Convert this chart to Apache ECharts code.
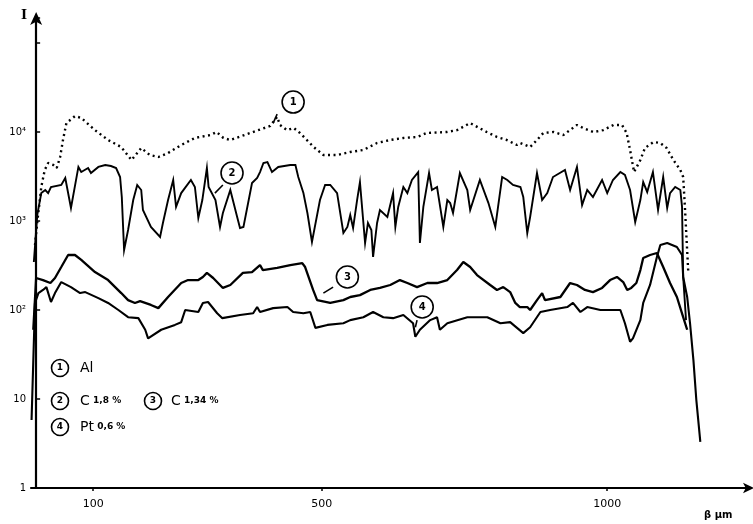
<!DOCTYPE html>
<html>
<head>
<meta charset="utf-8">
<script src="https://cdn.jsdelivr.net/npm/echarts@6/dist/echarts.min.js"></script>
<style>
html,body{margin:0;padding:0;background:#fff;}
#chart{width:753px;height:524px;}
</style>
</head>
<body>
<div id="chart"></div>
<script>
// ---- data (x in µm, y = intensity I, log scale) ----
const xTickValues = [100, 500, 1000];
const yTickLabels = ['1', '10', '10²', '10³', '10⁴'];
const xUnitLabel = 'β µm';
const yAxisLabel = 'I';

const seriesNames = ['Al', 'C 1,8 %', 'C 1,34 %', 'Pt 0,6 %'];
const seriesNums = ['1', '2', '3', '4'];

const alData = [[-2,537],[2,975],[9,2410],[15,3740],[21,4490],[30,4260],[36,3940],[42,5240],[47,8130],[53,12600],[68,15100],[79,14400],[103,10500],[126,8130],[149,6780],[167,4840],[184,6610],[199,5520],[214,5240],[231,5810],[254,7140],[278,8570],[305,9250],[316,10000],[328,8570],[340,8130],[375,9750],[410,11700],[422,14800],[427,12000],[439,10500],[451,11100],[462,9750],[474,8130],[486,6780],[503,5520],[527,5520],[550,5960],[573,6280],[597,7520],[620,8130],[643,8570],[667,8790],[684,9750],[719,10000],[737,10500],[760,12600],[789,10000],[807,8790],[824,8130],[842,7140],[848,7520],[865,6780],[877,8130],[888,9750],[906,10000],[923,9250],[947,12000],[958,11100],[976,10000],[993,10500],[1011,12000],[1026,12000],[1034,9750],[1040,6280],[1047,3550],[1058,4840],[1066,6610],[1081,7720],[1093,7520],[1104,6610],[1116,4840],[1128,3740],[1133,3120],[1136,1440],[1139,612],[1142,261]];

const c18Data = [[-4,346],[2,1170],[9,2060],[16,2230],[21,2060],[26,2410],[44,2540],[51,3040],[61,1400],[74,4050],[79,3550],[91,3940],[96,3460],[109,4050],[121,4260],[131,4150],[140,3940],[147,3120],[150,1860],[154,472],[161,792],[170,1720],[177,2540],[184,2230],[187,1330],[201,857],[217,661],[222,950],[231,1720],[240,2890],[245,1440],[254,2060],[271,2890],[278,2410],[284,1080],[291,1720],[299,3940],[302,2410],[314,1720],[322,857],[327,1230],[340,2230],[352,1110],[357,834],[363,857],[378,2670],[387,3040],[392,3550],[398,4490],[405,4600],[413,3550],[424,4050],[445,4260],[454,4260],[459,3120],[468,2060],[475,1230],[483,581],[497,1720],[506,2540],[515,2540],[527,2060],[538,733],[545,857],[550,1170],[555,834],[562,1720],[567,2740],[576,566],[581,950],[587,792],[590,394],[597,950],[602,1330],[615,1110],[625,2060],[629,857],[634,1440],[643,2410],[650,2060],[658,2890],[669,3550],[672,566],[678,1440],[688,3460],[693,2230],[702,2410],[713,857],[720,1720],[725,1590],[730,1230],[742,3460],[755,2230],[760,1330],[777,2890],[792,1590],[804,857],[816,3120],[825,2890],[835,2540],[848,2410],[853,1860],[860,733],[865,1110],[877,3460],[886,1720],[895,2060],[905,3120],[926,3740],[935,2230],[947,4050],[956,1510],[965,2230],[975,1860],[991,2890],[1000,2060],[1010,2890],[1023,3550],[1031,3290],[1040,2230],[1049,975],[1058,1720],[1063,2740],[1070,2120],[1080,3550],[1089,1330],[1098,3120],[1105,1400],[1110,2060],[1119,2410],[1128,2230],[1131,1440],[1133,235],[1138,77]];

const c134Data = [[-5,60],[0,229],[12,217],[25,201],[33,229],[44,304],[56,415],[68,415],[79,365],[103,267],[126,217],[149,155],[161,129],[173,120],[182,126],[201,114],[214,105],[231,140],[254,201],[266,217],[284,217],[292,235],[299,261],[310,229],[327,177],[340,191],[362,261],[378,267],[392,320],[397,281],[422,297],[445,320],[466,337],[471,304],[485,168],[492,129],[515,120],[538,129],[550,140],[567,147],[585,168],[602,177],[620,191],[637,217],[650,201],[667,181],[685,201],[702,201],[720,217],[737,281],[748,346],[760,304],[772,247],[795,191],[807,168],[818,181],[830,159],[839,120],[847,108],[860,108],[865,100],[877,129],[886,155],[891,129],[918,140],[935,201],[947,191],[961,168],[975,159],[991,177],[1005,217],[1017,235],[1028,206],[1035,168],[1042,177],[1051,201],[1058,281],[1063,384],[1075,415],[1087,437],[1098,304],[1110,201],[1122,140],[1133,83],[1140,60]];

const pt06Data = [[-8,5.8],[-2,120],[4,155],[12,168],[18,181],[26,123],[33,155],[44,206],[61,181],[77,155],[86,159],[109,136],[126,120],[144,100],[161,83],[179,81],[191,60],[196,48],[219,60],[243,68],[254,73],[261,100],[284,95],[292,120],[301,123],[317,92],[326,81],[357,88],[380,92],[387,108],[392,95],[415,105],[440,108],[450,95],[468,92],[480,95],[489,63],[510,68],[538,71],[550,77],[573,83],[590,95],[608,83],[625,81],[643,88],[660,71],[664,50],[672,60],[690,77],[702,83],[707,60],[720,71],[755,83],[790,83],[813,71],[830,73],[842,63],[853,55],[865,64],[883,95],[900,100],[930,108],[940,120],[953,95],[965,108],[988,100],[1023,100],[1031,71],[1040,44],[1045,48],[1058,77],[1063,120],[1075,191],[1087,394],[1093,537],[1105,566],[1122,510],[1131,415],[1133,235],[1140,140],[1145,71],[1151,27],[1156,9.8],[1163,3.3]];

// on-curve callouts: [x, I] of circle, then leader start/end
const calloutCircles = [[450,21700],[343,3460],[545,235],[676,108]];
const calloutLeaders = [[[415,12600],[422,15900]],[[313,2060],[327,2540]],[[503,155],[520,181]],[[664,64],[667,77]]];

// ---- chart ----
const chart = echarts.init(document.getElementById('chart'), null, {renderer:'canvas'});
const FONT = 'DejaVu Sans';

function mkSeries(i, data, lineStyle) {
  return {
    name: seriesNames[i],
    type: 'line',
    data: data,
    showSymbol: false,
    symbol: 'none',
    smooth: false,
    lineStyle: lineStyle,
    z: 3,
    markPoint: {
      symbol: 'circle',
      symbolSize: 22,
      silent: true,
      itemStyle: {color:'#fff', borderColor:'#000', borderWidth:1.6},
      label: {show:true, position:'inside', formatter: seriesNums[i], color:'#000', fontSize:10, fontFamily:FONT, fontWeight:'bold'},
      data: [{coord: calloutCircles[i]}]
    },
    markLine: {
      symbol: ['none','none'],
      silent: true,
      label: {show:false},
      lineStyle: {color:'#000', type:'solid', width:1.6},
      data: [[{coord: calloutLeaders[i][0]}, {coord: calloutLeaders[i][1]}]]
    }
  };
}

const legendRows = [
  {num:0, cx:60, cy:368, tx:80},
  {num:1, cx:60, cy:401, tx:80},
  {num:2, cx:153, cy:401, tx:171},
  {num:3, cx:60, cy:427, tx:80}
];
const graphics = [];
legendRows.forEach(r => {
  graphics.push({type:'circle', shape:{cx:r.cx, cy:r.cy, r:8.5}, style:{fill:'#fff', stroke:'#000', lineWidth:1.6}});
  graphics.push({type:'text', x:r.cx, y:r.cy, style:{text:seriesNums[r.num], fill:'#000', font:'bold 9px "DejaVu Sans"', align:'center', verticalAlign:'middle'}});
  const name = seriesNames[r.num];
  const parts = name.split(' ');
  const head = parts[0];
  const tail = parts.slice(1).join(' ');
  graphics.push({type:'text', x:r.tx, y:r.cy, style:{
    text: '{a|' + head + '}' + (tail ? ' {b|' + tail + '}' : ''),
    rich: {a:{fontSize:14, fontFamily:FONT, fill:'#000'}, b:{fontSize:9, fontWeight:'bold', fontFamily:FONT, fill:'#000'}},
    verticalAlign:'middle', align:'left'
  }});
});
graphics.push({type:'text', left:21, top:9, style:{text:yAxisLabel, fill:'#000', font:'bold 13px "DejaVu Serif"'}});
graphics.push({type:'text', left:704, top:510, style:{text:xUnitLabel, fill:'#000', font:'bold 10px "DejaVu Sans"'}});

const option = {
  backgroundColor: '#fff',
  animation: false,
  grid: {left:31, right:3, top:18, bottom:36, containLabel:false},
  xAxis: {
    type: 'value',
    min: -9,
    max: 1250,
    axisLine: {show:true, lineStyle:{color:'#000', width:2.2}, symbol:['none','arrow'], symbolSize:[8,11], symbolOffset:[0,4]},
    axisTick: {show:true, inside:false, length:3, customValues: xTickValues, lineStyle:{color:'#000', width:1.5}},
    axisLabel: {show:true, customValues: xTickValues, margin:11, color:'#000', fontSize:11, fontFamily:FONT,
      formatter: function (v) { return String(Math.round(v)); }},
    splitLine: {show:false}
  },
  yAxis: {
    type: 'log',
    logBase: 10,
    min: 1,
    max: 191000,
    axisLine: {show:true, lineStyle:{color:'#000', width:2.2}, symbol:['none','arrow'], symbolSize:[9,13], symbolOffset:[0,6]},
    axisTick: {show:true, inside:true, length:4, lineStyle:{color:'#000', width:1.5}},
    axisLabel: {
      show:true, margin:5, color:'#000', fontSize:10, fontFamily:FONT,
      formatter: function (v) {
        const lg = Math.log10(v);
        const k = Math.round(lg);
        if (Math.abs(lg - k) < 1e-6 && k >= 0 && k < yTickLabels.length) return yTickLabels[k];
        return '';
      }
    },
    splitLine: {show:false}
  },
  graphic: graphics,
  series: [
    mkSeries(0, alData, {color:'#000', width:2.4, type:[2,3.5], cap:'butt'}),
    mkSeries(1, c18Data, {color:'#000', width:1.9, type:'solid', join:'miter'}),
    mkSeries(2, c134Data, {color:'#000', width:2.3, type:'solid'}),
    mkSeries(3, pt06Data, {color:'#000', width:2.1, type:'solid'})
  ]
};
chart.setOption(option);
</script>
</body>
</html>
